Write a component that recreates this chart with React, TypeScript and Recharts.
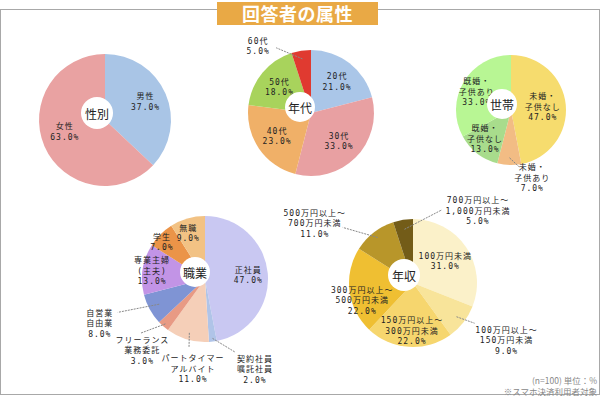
import { PieChart, Pie, Cell } from 'recharts';

const genderNames = ['男性', '女性'];
const genderValues = [37, 63];

const ageNames = ['20代', '30代', '40代', '50代', '60代'];
const ageValues = [21, 33, 23, 18, 5];

const householdNames = ['未婚・\n子供なし', '未婚・\n子供あり', '既婚・\n子供なし', '既婚・\n子供あり'];
const householdValues = [47, 7, 13, 33];

const jobNames = [
  '正社員',
  '契約社員\n嘱託社員',
  'パートタイマー\nアルバイト',
  'フリーランス\n業務委託',
  '自営業\n自由業',
  '専業主婦\n(主夫)',
  '学生',
  '無職',
];
const jobValues = [47, 2, 11, 3, 8, 13, 7, 9];

const incomeNames = [
  '100万円未満',
  '100万円以上～\n150万円未満',
  '150万円以上～\n300万円未満',
  '300万円以上～\n500万円未満',
  '500万円以上～\n700万円未満',
  '700万円以上～\n1,000万円未満',
];
const incomeValues = [31, 9, 22, 22, 11, 5];

// styles
const genderColors = ['#a9c5e6', '#e9a2a2'];
const ageColors = ['#aac6e8', '#e8a0a2', '#f0b068', '#a8d35c', '#e03a30'];
const householdColors = ['#f6dc6e', '#f2bc84', '#a8dc8c', '#b8f694'];
const jobColors = ['#c9c8f2', '#b0c4e8', '#f5cfb8', '#e89a84', '#7f94d4', '#c294e6', '#eb9448', '#f2c284'];
const incomeColors = ['#fbf1c9', '#f8e49a', '#f6d66e', '#efbf32', '#b8962a', '#735c18'];

type LabelPos = { k: number; nx?: number; ny?: number; line?: { k0: number; ex: number; ey: number } };

const genderLabels: LabelPos[] = [
  { k: 0.67, ny: -1 },
  { k: 0.63, nx: -2, ny: -5 },
];
const ageLabels: LabelPos[] = [
  { k: 0.65, nx: 1, ny: 1 },
  { k: 0.63 },
  { k: 0.65 },
  { k: 0.65 },
  { k: 1, nx: -43, ny: -5, line: { k0: 0.87, ex: 18, ey: 2 } },
];
const householdLabels: LabelPos[] = [
  { k: 0.58 },
  { k: 1, nx: 23, ny: 13, line: { k0: 0.87, ex: -13, ey: -11 } },
  { k: 0.71, nx: -2, ny: -2 },
  { k: 0.68, nx: -2, ny: 1 },
];
const jobLabels: LabelPos[] = [
  { k: 0.69 },
  { k: 1, nx: 42, ny: 27.5, line: { k0: 0.95, ex: -20, ey: -17 } },
  { k: 1, nx: 5.6, ny: 29.5, line: { k0: 0.89, ex: -4, ey: -22 } },
  { k: 1, nx: -21, ny: 24, line: { k0: 0.95, ex: -2, ey: -17 } },
  { k: 1, nx: -50, ny: 14, line: { k0: 0.83, ex: 18, ey: -11 } },
  { k: 0.85 },
  { k: 0.9, nx: -3, ny: 3 },
  { k: 0.78, nx: -3, ny: 1 },
];
const incomeLabels: LabelPos[] = [
  { k: 0.61 },
  { k: 1, nx: 43, ny: 18, line: { k0: 0.86, ex: -32, ey: -17 } },
  { k: 0.75, nx: 2 },
  { k: 0.8, ny: 11 },
  { k: 1, nx: -59, ny: -9, line: { k0: 0.9, ex: 28, ey: 4 } },
  { k: 1, nx: 75, ny: -9, line: { k0: 0.85, ex: -36, ey: -1 } },
];

const LABEL_FONT = '"DejaVu Sans Mono", "Noto Sans CJK JP", sans-serif';
const JP_FONT = '"Noto Sans CJK JP", sans-serif';
const RAD = Math.PI / 180;

function makeLabel(names: string[], values: number[], layout: LabelPos[]) {
  return (p: any) => {
    const { cx, cy, midAngle, outerRadius, index } = p;
    const L = layout[index];
    const pt = (k: number) => ({
      x: cx + outerRadius * k * Math.cos(-midAngle * RAD),
      y: cy + outerRadius * k * Math.sin(-midAngle * RAD),
    });
    const c = pt(L.k);
    const x = c.x + (L.nx ?? 0);
    const y = c.y + (L.ny ?? 0);
    const lines = [...names[index].split('\n'), `${values[index].toFixed(1)}%`];
    const lh = 10.5;
    const y0 = y - ((lines.length - 1) * lh) / 2;
    const s = L.line ? pt(L.line.k0) : null;
    return (
      <g key={`lbl-${index}`}>
        {L.line && s && (
          <line x1={s.x} y1={s.y} x2={x + L.line.ex} y2={y + L.line.ey} stroke="#888" strokeWidth={1} strokeDasharray="2 1" />
        )}
        <text x={x} y={y0} textAnchor="middle" dominantBaseline="central" fontSize={8} letterSpacing={1} fill="#222" fontFamily={LABEL_FONT}>
          {lines.map((t, i) => (
            <tspan key={i} x={x} y={y0 + i * lh}>
              {t}
            </tspan>
          ))}
        </text>
      </g>
    );
  };
}

const pies = [
  { title: '性別', names: genderNames, values: genderValues, colors: genderColors, labels: genderLabels, cx: 100, cy: 115, r: 66, hole: [-3, -2, 16] },
  { title: '年代', names: ageNames, values: ageValues, colors: ageColors, labels: ageLabels, cx: 306, cy: 108, r: 63, hole: [-6, -1, 15] },
  { title: '世帯', names: householdNames, values: householdValues, colors: householdColors, labels: householdLabels, cx: 506, cy: 105, r: 55, hole: [-4, -1, 15] },
  { title: '職業', names: jobNames, values: jobValues, colors: jobColors, labels: jobLabels, cx: 200, cy: 274, r: 63, hole: [-5, -2, 15] },
  { title: '年収', names: incomeNames, values: incomeValues, colors: incomeColors, labels: incomeLabels, cx: 408, cy: 278, r: 64, hole: [-4, -3, 16] },
];

export default function App() {
  return (
    <div style={{ position: 'absolute', left: 0, top: 0, width: 600, height: 396, background: '#fff', overflow: 'hidden' }}>
      <div
        style={{
          position: 'absolute',
          left: 0,
          top: 9,
          width: 600,
          height: 386,
          boxSizing: 'border-box',
          border: '1.5px solid #a8a8a8',
        }}
      />
      <PieChart width={600} height={396} style={{ position: 'absolute', left: 0, top: 0 }}>
        {pies.map((pc) => (
          <Pie
            key={pc.title}
            data={pc.names.map((n, i) => ({ name: n, value: pc.values[i] }))}
            dataKey="value"
            nameKey="name"
            cx={pc.cx}
            cy={pc.cy}
            outerRadius={pc.r}
            innerRadius={0}
            startAngle={90}
            endAngle={-270}
            stroke="none"
            labelLine={false}
            label={makeLabel(pc.names, pc.values, pc.labels)}
            isAnimationActive={false}
          >
            {pc.values.map((_, i) => (
              <Cell key={i} fill={pc.colors[i]} />
            ))}
          </Pie>
        ))}
      </PieChart>
      {pies.map((pc) => (
        <div
          key={pc.title}
          style={{
            position: 'absolute',
            left: pc.cx + pc.hole[0] - pc.hole[2],
            top: pc.cy + pc.hole[1] - pc.hole[2],
            width: pc.hole[2] * 2,
            height: pc.hole[2] * 2,
            borderRadius: '50%',
            background: '#fff',
            display: 'flex',
            alignItems: 'center',
            justifyContent: 'center',
            fontFamily: JP_FONT,
            fontSize: 12,
            color: '#222',
          }}
        >
          {pc.title}
        </div>
      ))}
      <div
        style={{
          position: 'absolute',
          left: 217,
          top: 2,
          width: 161,
          height: 23,
          background: '#e9a945',
          color: '#fff',
          fontFamily: JP_FONT,
          fontWeight: 700,
          fontSize: 18,
          lineHeight: '23px',
          textAlign: 'center',
          letterSpacing: 0.5,
        }}
      >
        回答者の属性
      </div>
      <div
        style={{
          position: 'absolute',
          right: 3,
          top: 375,
          textAlign: 'right',
          fontFamily: JP_FONT,
          fontSize: 8.5,
          lineHeight: '11px',
          color: '#888',
        }}
      >
        <div>(n=100) 単位：%</div>
        <div>※スマホ決済利用者対象</div>
      </div>
    </div>
  );
}
